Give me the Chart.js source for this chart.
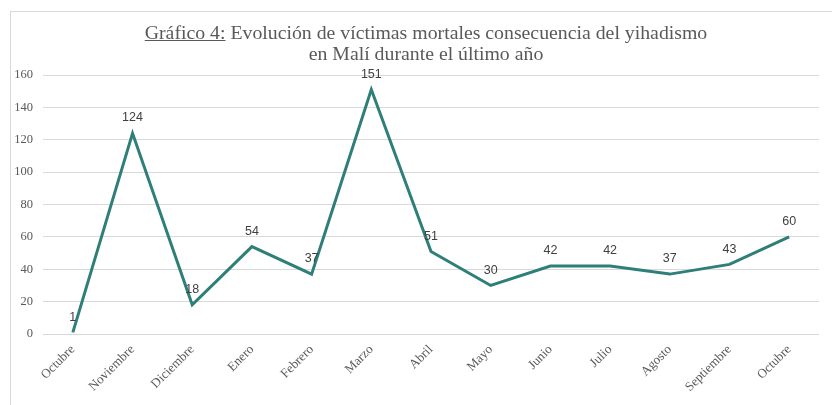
<!DOCTYPE html>
<html>
<head>
<meta charset="utf-8">
<script src="https://cdn.jsdelivr.net/npm/chart.js@4/dist/chart.umd.min.js"></script>
<style>
  html, body { margin: 0; padding: 0; background: #fff; }
  #wrap { position: relative; width: 832px; height: 405px; overflow: hidden; }
  #frame { position: absolute; left: 10px; top: 11px; width: 900px; height: 500px;
           border-left: 1px solid #d9d9d9; border-top: 1px solid #d9d9d9; }
  #title { position: absolute; left: 0; top: 22px; width: 852px; text-align: center;
           font-family: "Liberation Serif", "DejaVu Serif", serif; font-size: 19.8px;
           color: #595959; line-height: 21px; }
  canvas { position: absolute; left: 0; top: 0; }
</style>
</head>
<body>
<div id="wrap">
  <div id="frame"></div>
  <canvas id="c" width="832" height="405"></canvas>
  <div id="title"><u>Gráfico 4:</u> Evolución de víctimas mortales consecuencia del yihadismo<br>en Malí durante el último año</div>
</div>
<script>
const categories = ["Octubre", "Noviembre", "Diciembre", "Enero", "Febrero", "Marzo", "Abril", "Mayo", "Junio", "Julio", "Agosto", "Septiembre", "Octubre"];
const victimas = [1, 124, 18, 54, 37, 151, 51, 30, 42, 42, 37, 43, 60];
const yTicks = [0, 20, 40, 60, 80, 100, 120, 140, 160];

const labelPlugin = {
  id: 'pointLabels',
  afterDatasetsDraw(chart) {
    const ctx = chart.ctx;
    const meta = chart.getDatasetMeta(0);
    ctx.save();
    ctx.font = '12.5px "Liberation Sans", Arial, sans-serif';
    ctx.fillStyle = '#404040';
    ctx.textAlign = 'center';
    ctx.textBaseline = 'bottom';
    meta.data.forEach((pt, i) => {
      ctx.fillText(String(chart.data.datasets[0].data[i]), pt.x, pt.y - 9);
    });
    ctx.restore();
  }
};

new Chart(document.getElementById('c'), {
  type: 'line',
  data: {
    labels: categories,
    datasets: [{
      data: victimas,
      borderColor: '#2f7f79',
      borderWidth: 3,
      pointRadius: 0,
      tension: 0,
      fill: false
    }]
  },
  options: {
    responsive: false,
    animation: false,
    layout: { padding: { left: 0, right: 13, top: 75, bottom: 0 } },
    plugins: { legend: { display: false }, title: { display: false }, tooltip: { enabled: false } },
    scales: {
      x: {
        offset: true,
        grid: { display: false, drawTicks: false },
        border: { display: false },
        ticks: {
          minRotation: 45, maxRotation: 45, autoSkip: false, padding: 8,
          color: '#595959',
          font: { family: '"Liberation Serif", "DejaVu Serif", serif', size: 13 }
        },
        afterFit(s) { s.height = 405 - 334; }
      },
      y: {
        min: 0, max: 160,
        afterBuildTicks(s) { s.ticks = yTicks.map(v => ({ value: v })); },
        grid: { color: '#d9d9d9', lineWidth: 1, drawTicks: false },
        border: { display: false },
        ticks: {
          padding: 10,
          color: '#595959',
          font: { family: '"Liberation Serif", "DejaVu Serif", serif', size: 12.5 }
        },
        afterFit(s) { s.width = 43; }
      }
    }
  },
  plugins: [labelPlugin]
});
</script>
</body>
</html>
